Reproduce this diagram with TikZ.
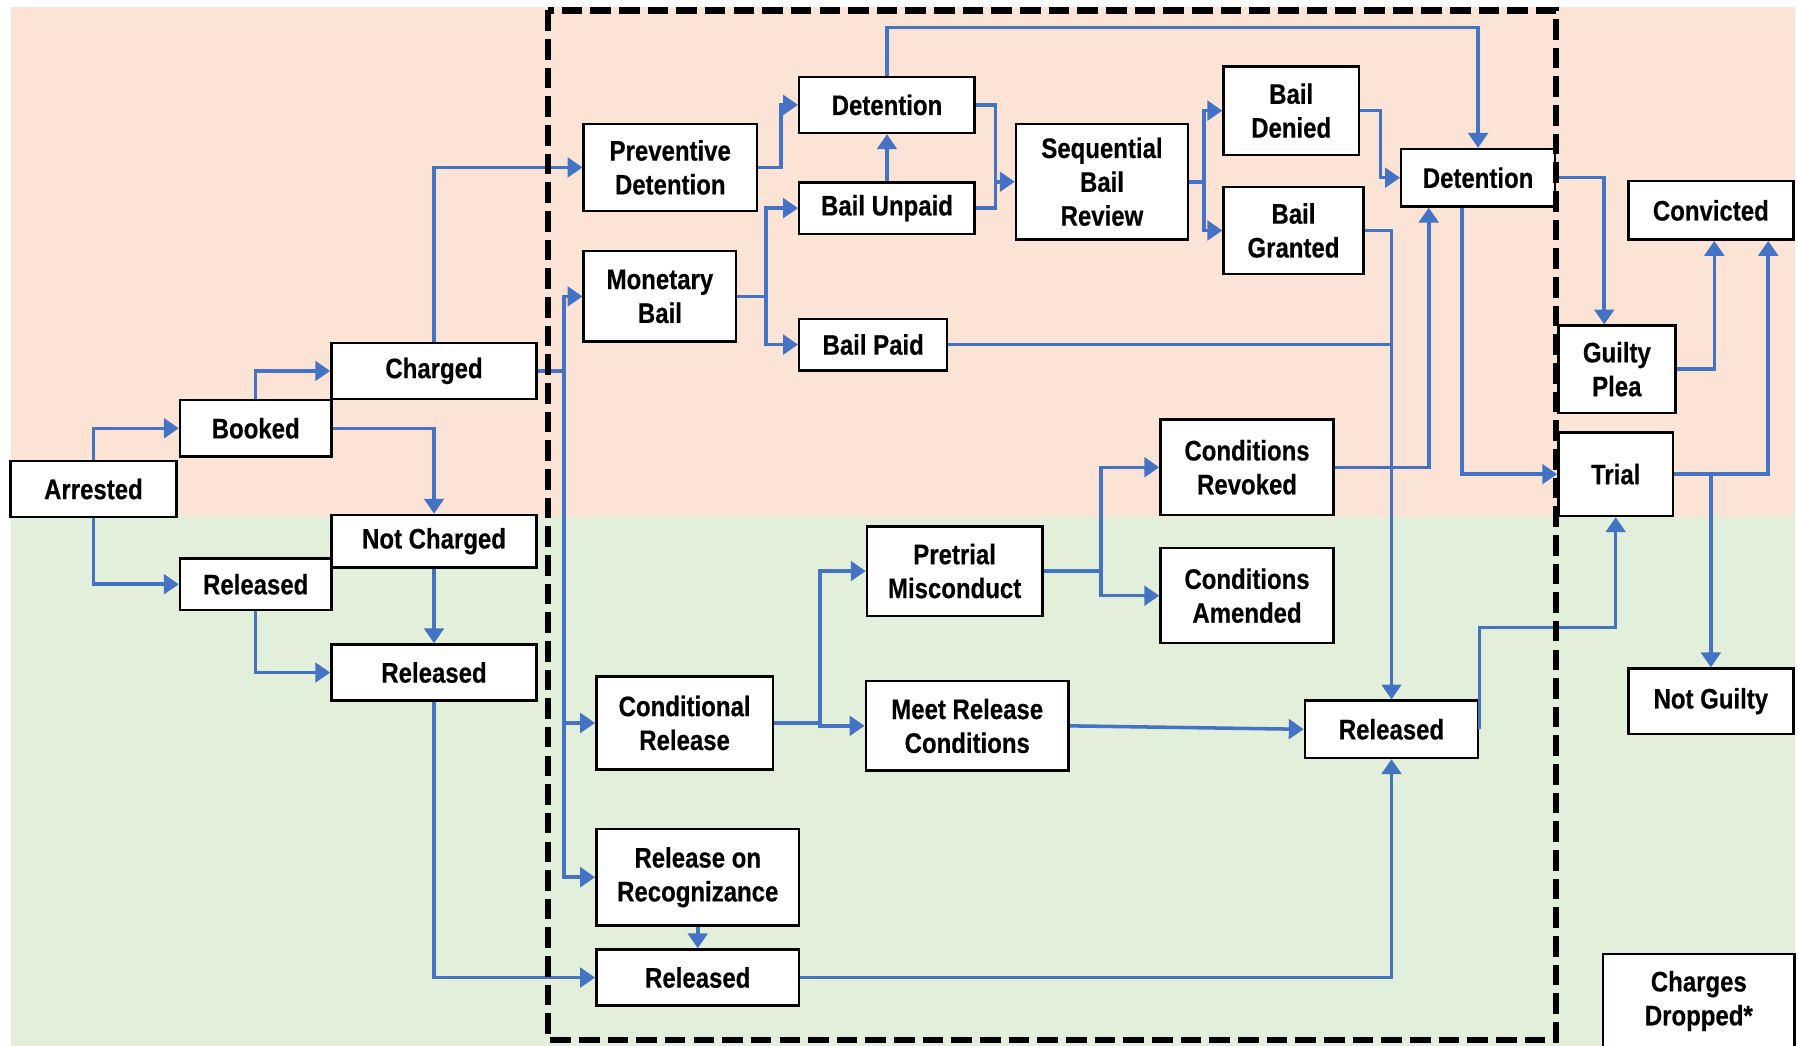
\documentclass[tikz,border=0pt]{standalone}
\usepackage{fontspec}
\setmainfont[FakeStretch=0.85, BoldFeatures={FakeBold=0.4}]{Liberation Sans}
\usetikzlibrary{calc,arrows.meta}
\definecolor{peach}{HTML}{FBE4D6}
\definecolor{sage}{HTML}{E2EFDA}
\definecolor{flow}{HTML}{4472C4}
\tikzset{
  box/.style={draw=black, fill=white, line width=1.2pt, align=center, inner sep=0pt,
    font=\fontsize{14}{16.8}\selectfont\bfseries},
  wire/.style={draw=flow, line width=1.75pt},
  arr/.style={wire, -{Triangle[length=0.26cm,width=0.34cm]}},
  dashbox/.style={draw=black, line width=3.2pt, dash pattern=on 0.36cm off 0.14cm},
}

\begin{document}
\begin{tikzpicture}[x=0.02cm, y=-0.02cm]
	\clip (0,0) rectangle (1568,912);
	\fill[peach] (10,6) rectangle (1565,451);
	\fill[sage] (10,451) rectangle (1565,912);
	
	% before the charge
	\node[box, minimum width=2.9cm, minimum height=0.98cm] (arrested) at (81.5,426.5) {Arrested};
	\node[box, minimum width=2.64cm, minimum height=0.98cm] (booked) at (223,373.5) {Booked};
	\node[box, minimum width=3.58cm, minimum height=0.98cm] (charged) at (378.5,323.5) {Charged};
	\node[box, minimum width=3.58cm, minimum height=0.92cm] (notcharged) at (378.5,472) {Not Charged};
	\node[box, minimum width=2.64cm, minimum height=0.9cm] (relA) at (223,509.5) {Released};
	\node[box, minimum width=3.58cm, minimum height=0.98cm] (relB) at (378.5,586.5) {Released};
	
	% pretrial
	\node[box, minimum width=3.02cm, minimum height=1.52cm] (prevdet) at (584.5,146) {Preventive\\Detention};
	\node[box, minimum width=2.66cm, minimum height=1.58cm] (monbail) at (575.5,258.5) {Monetary\\Bail};
	\node[box, minimum width=3.06cm, minimum height=0.98cm] (det) at (773.5,91.5) {Detention};
	\node[box, minimum width=3.06cm, minimum height=0.9cm] (unpaid) at (773.5,181.5) {Bail Unpaid};
	\node[box, minimum width=2.58cm, minimum height=0.9cm] (paid) at (761.5,300.5) {Bail Paid};
	\node[box, minimum width=3.0cm, minimum height=2.02cm] (seqbail) at (961,158.5) {Sequential\\Bail\\Review};
	\node[box, minimum width=2.36cm, minimum height=1.54cm] (denied) at (1126,96.5) {Bail\\Denied};
	\node[box, minimum width=2.44cm, minimum height=1.52cm] (granted) at (1128,201) {Bail\\Granted};
	\node[box, minimum width=2.68cm, minimum height=1.0cm] (detR) at (1289,155) {Detention};
	\node[box, minimum width=3.02cm, minimum height=1.66cm] (revoked) at (1087.5,407.5) {Conditions\\Revoked};
	\node[box, minimum width=3.02cm, minimum height=1.66cm] (amended) at (1087.5,519.5) {Conditions\\Amended};
	\node[box, minimum width=3.06cm, minimum height=1.56cm] (misconduct) at (832.5,498) {Pretrial\\Misconduct};
	\node[box, minimum width=3.08cm, minimum height=1.62cm] (condrel) at (597,630.5) {Conditional\\Release};
	\node[box, minimum width=3.54cm, minimum height=1.56cm] (meet) at (843.5,633) {Meet Release\\Conditions};
	\node[box, minimum width=3.02cm, minimum height=1.0cm] (relC) at (1213.5,636) {Released};
	\node[box, minimum width=3.54cm, minimum height=1.68cm] (ror) at (608.5,765) {Release on\\Recognizance};
	\node[box, minimum width=3.54cm, minimum height=0.98cm] (relD) at (608.5,852.5) {Released};
	
	% outcome
	\node[box, minimum width=2.88cm, minimum height=1.02cm] (convicted) at (1492,183.5) {Convicted};
	\node[box, minimum width=2.04cm, minimum height=1.52cm] (plea) at (1410,322) {Guilty\\Plea};
	\node[box, minimum width=2.0cm, minimum height=1.46cm] (trial) at (1409,413.5) {Trial};
	\node[box, minimum width=2.88cm, minimum height=1.14cm] (notguilty) at (1492,611.5) {Not Guilty};
	\node[box, minimum width=3.34cm, minimum height=1.64cm] (dropped) at (1481.5,873) {Charges\\Dropped*};
	
	% junctions
	\coordinate (fork) at (492,323.5);
	\coordinate (mb) at (668,258.5);
	\coordinate (sb) at (868,158.5);
	\coordinate (bd) at (1050,158.5);
	\coordinate (pm) at (960,498);
	\coordinate (cr) at (715,630.5);
	
	\draw[arr] (arrested.north) |- (booked.west);
	\draw[arr] (arrested.south) |- (relA.west);
	\draw[arr] (booked.north) |- (charged.west);
	\draw[arr] (booked.east) -| (notcharged.north);
	\draw[arr] (notcharged.south) -- (relB.north);
	\draw[arr] (relA.south) |- (relB.west);
	\draw[arr] (charged.north) |- (prevdet.west);
	\draw[wire] (charged.east) -- (fork);
	\draw[arr] (fork) |- (monbail.west);
	\draw[arr] (fork) |- (condrel.west);
	\draw[arr] (fork) |- (ror.west);
	\draw[arr] (relB.south) |- (relD.west);
	
	\draw[arr] (prevdet.east) -- ++(20,0) |- (det.west);
	\draw[wire] (monbail.east) -- (mb);
	\draw[arr] (mb) |- (unpaid.west);
	\draw[arr] (mb) |- (paid.west);
	\draw[arr] (unpaid.north) -- (det.south);
	\draw[wire] (det.east) -| (sb);
	\draw[wire] (unpaid.east) -| (sb);
	\draw[arr] (sb) -- (seqbail.west);
	\draw[wire] (seqbail.east) -- (bd);
	\draw[arr] (bd) |- (denied.west);
	\draw[arr] (bd) |- (granted.west);
	\draw[arr] (det.north) -- ++(0,-42) -| (detR.north);
	\draw[arr] (denied.east) -- ++(18,0) |- (detR.west);
	\draw[arr] (granted.east) -| (relC.north);
	\draw[wire] (paid.east) -- (paid.east -| relC.north);
	\draw[arr] (revoked.east) -| ($(detR.south west)+(25,0)$);
	
	\draw[wire] (condrel.east) -- (cr);
	\draw[arr] (cr) |- (misconduct.west);
	\draw[arr] (cr) |- (meet.west);
	\draw[wire] (misconduct.east) -- (pm);
	\draw[arr] (pm) |- (revoked.west);
	\draw[arr] (pm) |- (amended.west);
	\draw[arr] (meet.east) -- (relC.west);
	\draw[arr] (ror.south) -- (relD.north);
	\draw[arr] (relD.east) -| (relC.south);
	\draw[arr] (relC.east) |- ($(trial.south)+(0,96)$) -- (trial.south);
	
	\draw[arr] ($(detR.south west)+(54,0)$) |- (trial.west);
	\draw[arr] (detR.east) -| ($(plea.north)+(-11,0)$);
	\draw[arr] (plea.east) -| ($(convicted.south)+(3,0)$);
	\draw[arr] (trial.east) -| ($(convicted.south)+(50,0)$);
	\draw[arr] (trial.east -| notguilty.north) -- (notguilty.north);
	
	\draw[dashbox] (478,9) rectangle (1357,907);
\end{tikzpicture}
\end{document}
